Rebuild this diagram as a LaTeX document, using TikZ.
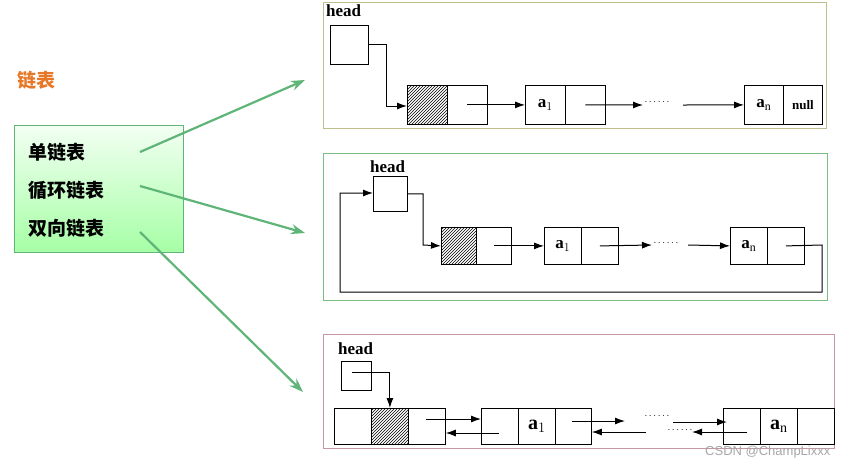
\documentclass[tikz,border=0pt]{standalone}
\usepackage{fontspec}
\setmainfont{Liberation Serif}
\newfontfamily\cjk{Noto Sans CJK SC}
\usetikzlibrary{patterns,arrows.meta}
\definecolor{garrow}{RGB}{95,180,120}
\definecolor{orangeT}{RGB}{230,120,40}
\begin{document}
\begin{tikzpicture}[x=1pt,y=-1pt,
  cell/.style={draw,line width=0.8pt,minimum width=#1,minimum height=37,inner sep=0,anchor=north west,font=\bfseries\fontsize{17}{17}\selectfont},
  hat/.style={pattern=north east lines},
  ar/.style={-{Latex[length=10pt,width=7pt]},line width=1pt},
  gar/.style={-{Stealth[length=14pt,width=10pt]},garrow,line width=2.2pt},
  lbl/.style={font=\bfseries\fontsize{17}{17}\selectfont,anchor=west,inner sep=0},
  ch/.style={font=\cjk\bfseries\fontsize{19}{19}\selectfont,anchor=west,inner sep=0}]
\useasboundingbox (0,0) rectangle (865,467);
% left
\node[font=\cjk\bfseries\fontsize{19}{19}\selectfont,text=orangeT,anchor=west,inner sep=0] (title) at (17,80) {链表};
\node[draw=garrow,line width=1pt,top color=green!5,bottom color=green!35!white,minimum width=169,minimum height=127,anchor=north west] (box) at (14,125) {};
\node[ch] (t1) at (28,152) {单链表};
\node[ch] (t2) at (28,190) {循环链表};
\node[ch] (t3) at (28,228) {双向链表};
\coordinate (e1) at (305,80); \coordinate (e2) at (305,233); \coordinate (e3) at (303,392);
\draw[gar] (140,152) -- (e1);
\draw[gar] (140,186) -- (e2);
\draw[gar] (140,232) -- (e3);
% panel 1
\node[draw={rgb,255:red,190;green,190;blue,140},line width=1pt,minimum width=503,minimum height=126,anchor=north west,inner sep=0] (p1) at (323,2) {};
\node[lbl] (h1) at (326,11) {head};
\node[cell=38,minimum height=39] (hb1) at (330,25) {};
\node[cell=40,minimum height=39,hat] (n0a) at (407,85) {};
\node[cell=40,minimum height=39] (n0b) at (447,85) {};
\node[cell=40,minimum height=39] (a1a) at (525,85) {a$_1$};
\node[cell=40,minimum height=39] (a1b) at (565,85) {};
\node[cell=39,minimum height=39] (ana) at (744,85) {a$_\mathrm{n}$};
\node[cell=39,minimum height=39,font=\bfseries\fontsize{13}{13}\selectfont] (anb) at (783,85) {null};
\node[inner sep=0,font=\bfseries] (d1) at (657,102) {$\cdots\cdots$};
\draw[ar] (hb1.east) -| (386,106) -- (n0a.west|-0,106);
\draw[ar] (n0b.center) -- (a1a.west|-n0b.center);
\draw[ar] (a1b.center) -- (643,105);
\draw[ar] (683,105) -- (ana.west);
% panel 2
\node[draw={rgb,255:red,120;green,190;blue,130},line width=1pt,minimum width=504,minimum height=147,anchor=north west,inner sep=0] (p2) at (323,153) {};
\node[lbl] (h2) at (370,167) {head};
\node[cell=34,minimum height=35] (hb2) at (373,176) {};
\node[cell=35,hat] (m0a) at (441,227) {};
\node[cell=35] (m0b) at (476,227) {};
\node[cell=37] (b1a) at (544,227) {a$_1$};
\node[cell=37] (b1b) at (581,227) {};
\node[cell=37] (bna) at (730,227) {a$_\mathrm{n}$};
\node[cell=37] (bnb) at (767,227) {};
\node[inner sep=0] (d2) at (666,243) {$\cdots\cdots$};
\draw[ar] (hb2.east) -| (423,245) -- (m0a.west);
\draw[ar] (m0b.center) -- (b1a.west);
\draw[ar] (b1b.center) -- (652,245);
\draw[ar] (688,245) -- (bna.west);
\draw[ar] (bnb.center) -- (822,245) -- (822,292) -- (340,292) -- (340,193) -- (hb2.west|-0,193);
% panel 3
\node[draw={rgb,255:red,200;green,150;blue,160},line width=1pt,minimum width=511,minimum height=114,anchor=north west,inner sep=0] (p3) at (323,334) {};
\node[lbl] (h3) at (338,349) {head};
\node[cell=30,minimum height=29] (hb3) at (341,361) {};
\node[cell=37,minimum height=36] (c0a) at (334,408) {};
\node[cell=37,minimum height=36,hat] (c0b) at (371,408) {};
\node[cell=37,minimum height=36] (c0c) at (408,408) {};
\node[cell=37,minimum height=36] (c1a) at (481,408) {};
\node[cell=37,minimum height=36,font=\bfseries\fontsize{20}{20}\selectfont] (c1b) at (518,408) {a$_1$};
\node[cell=36,minimum height=36] (c1c) at (555,408) {};
\node[cell=37,minimum height=36] (cna) at (723,408) {};
\node[cell=37,minimum height=36,font=\bfseries\fontsize{20}{20}\selectfont] (cnb) at (760,408) {a$_\mathrm{n}$};
\node[cell=37,minimum height=36] (cnc) at (797,408) {};
\node[inner sep=0] (d3a) at (657,416) {$\cdots\cdots$};
\node[inner sep=0] (d3b) at (680,430) {$\cdots\cdots$};
\draw[ar] (352,372) -| (c0b.north);
\draw[ar] (426,419) -- (c1a.west|-0,419);
\draw[ar] (499,433) -- (c0c.east|-0,433);
\draw[ar] (572,421) -- (625,421);
\draw[ar] (646,432) -- (c1c.east|-0,432);
\draw[ar] (673,422) -- (727,422);
\draw[ar] (747,432) -- (692,432);
\node[text=gray!70,font=\fontspec{Liberation Sans}\fontsize{13}{13}\selectfont,anchor=west,inner sep=0] (wm) at (705,452) {CSDN @ChampLixxx};
\end{tikzpicture}
\end{document}
